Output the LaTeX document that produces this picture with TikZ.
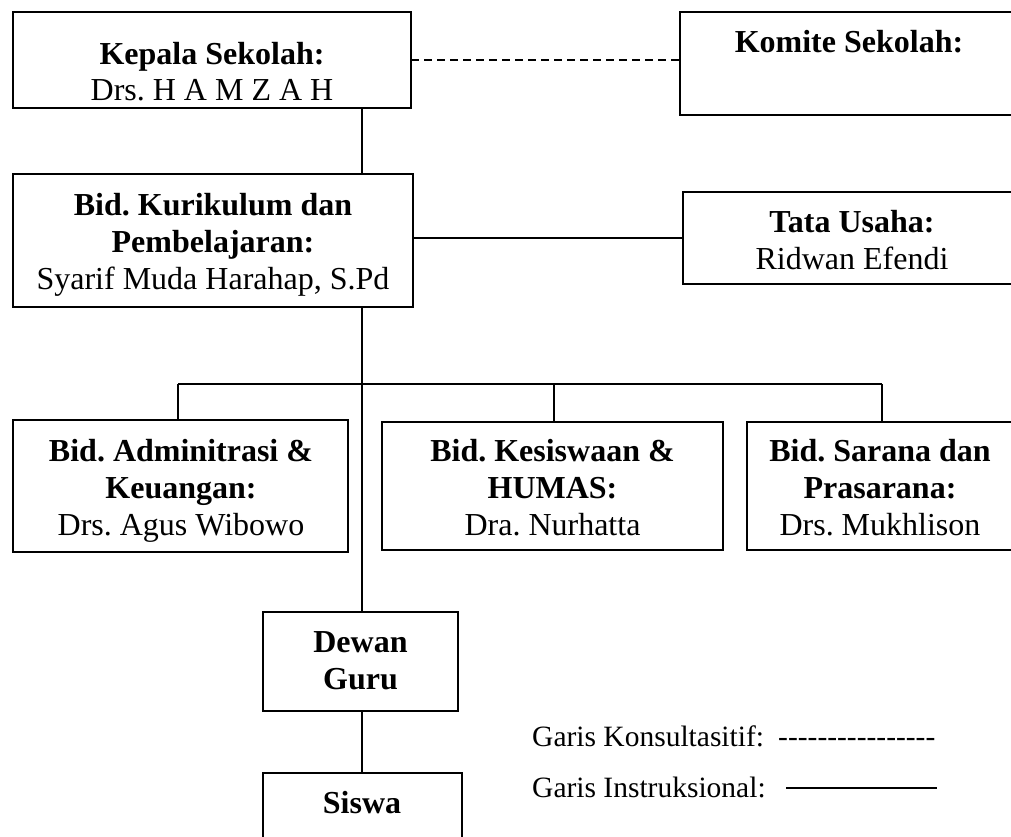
\documentclass[tikz,border=0pt]{standalone}
\usepackage{fontspec}
\setmainfont{Liberation Serif}
\frenchspacing
\newcommand\boxtext[1]{\begin{tabular}[t]{@{}c@{}}#1\end{tabular}}
\newcommand\hy{-\kern0pt}
\begin{document}
\begin{tikzpicture}[x=1pt,y=-1pt,
  box/.style={draw, line width=1.8pt, inner sep=0pt, outer sep=0pt},
  conn/.style={line width=1.8pt},
  consult/.style={line width=1.6pt, dash pattern=on 8pt off 5pt},
  txt/.style={inner sep=0pt, anchor=base, font=\fontsize{32}{37}\selectfont},
  leg/.style={inner sep=0pt, anchor=base west, font=\fontsize{29.5}{34}\selectfont}]
\useasboundingbox (0,0) rectangle (1011,836);
\fill[white] (0,0) rectangle (1011,836);
\clip (0,0) rectangle (1011,836);

% boxes
\node[box, minimum width=398pt, minimum height=96pt]  (kepala) at (212,60) {};
\node[box, minimum width=338pt, minimum height=103pt] (komite) at (849,63.5) {};
\node[box, minimum width=400pt, minimum height=133pt] (kurik)  at (213,240.5) {};
\node[box, minimum width=338pt, minimum height=92pt]  (tata)   at (852,238) {};
\node[box, minimum width=335pt, minimum height=132pt] (adm)    at (180.5,486) {};
\node[box, minimum width=341pt, minimum height=128pt] (kes)    at (552.5,486) {};
\node[box, minimum width=266pt, minimum height=128pt] (sar)    at (880,486) {};
\node[box, minimum width=195pt, minimum height=99pt]  (dewan)  at (360.5,661.5) {};
\node[box, minimum width=199pt, minimum height=87pt]  (siswa)  at (362.5,816.5) {};

% texts
\node[txt, font=\fontsize{32}{36}\selectfont] (kepalaT) at (212,64) {\boxtext{\textbf{Kepala Sekolah:}\\Drs. H A M Z A H}};
\node[txt] (komiteT) at (849,52) {\textbf{Komite Sekolah:}};
\node[txt] (kurikT) at (213,215) {\boxtext{\textbf{Bid. Kurikulum dan}\\\textbf{Pembelajaran:}\\Syarif Muda Harahap, S.Pd}};
\node[txt] (tataT) at (852,232.5) {\boxtext{\textbf{Tata Usaha:}\\Ridwan Efendi}};
\node[txt] (admT) at (181,461) {\boxtext{\textbf{Bid. Adminitrasi \&}\\\textbf{Keuangan:}\\Drs. Agus Wibowo}};
\node[txt] (kesT) at (552.5,461) {\boxtext{\textbf{Bid. Kesiswaan \&}\\\textbf{HUMAS:}\\Dra. Nurhatta}};
\node[txt] (sarT) at (880,461) {\boxtext{\textbf{Bid. Sarana dan}\\\textbf{Prasarana:}\\Drs. Mukhlison}};
\node[txt] (dewanT) at (360.5,652) {\boxtext{\textbf{Dewan}\\\textbf{Guru}}};
\node[txt] (siswaT) at (362,813) {\textbf{Siswa}};

% connectors
\coordinate (trunk) at (362,0);
\coordinate (busL) at (178,384);
\coordinate (busM) at (554,384);
\coordinate (busR) at (882,384);
\draw[consult] (kepala.east) -- (kepala.east -| komite.west);
\draw[conn] (kepala.south -| trunk) -- (kurik.north -| trunk);
\draw[conn] (tata.west -| kurik.east) -- (tata.west);
\draw[conn] (kurik.south -| trunk) -- (dewan.north -| trunk);
\draw[conn] (dewan.south -| trunk) -- (siswa.north -| trunk);
\draw[conn] (busL) -- (busR);
\draw[conn] (busL) -- (adm.north -| busL);
\draw[conn] (busM) -- (kes.north -| busM);
\draw[conn] (busR) -- (sar.north -| busR);

% legend
\node[leg] (legK) at (532,746) {Garis Konsultasitif:};
\node[leg] (legKd) at (778,746) {\hy\hy\hy\hy\hy\hy\hy\hy\hy\hy\hy\hy\hy\hy\hy\hy};
\node[leg] (legI) at (532,797) {Garis Instruksional:};
\coordinate (legIa) at (786,788);
\coordinate (legIb) at (937,788);
\draw[line width=1.6pt] (legIa) -- (legIb);
\end{tikzpicture}
\end{document}
